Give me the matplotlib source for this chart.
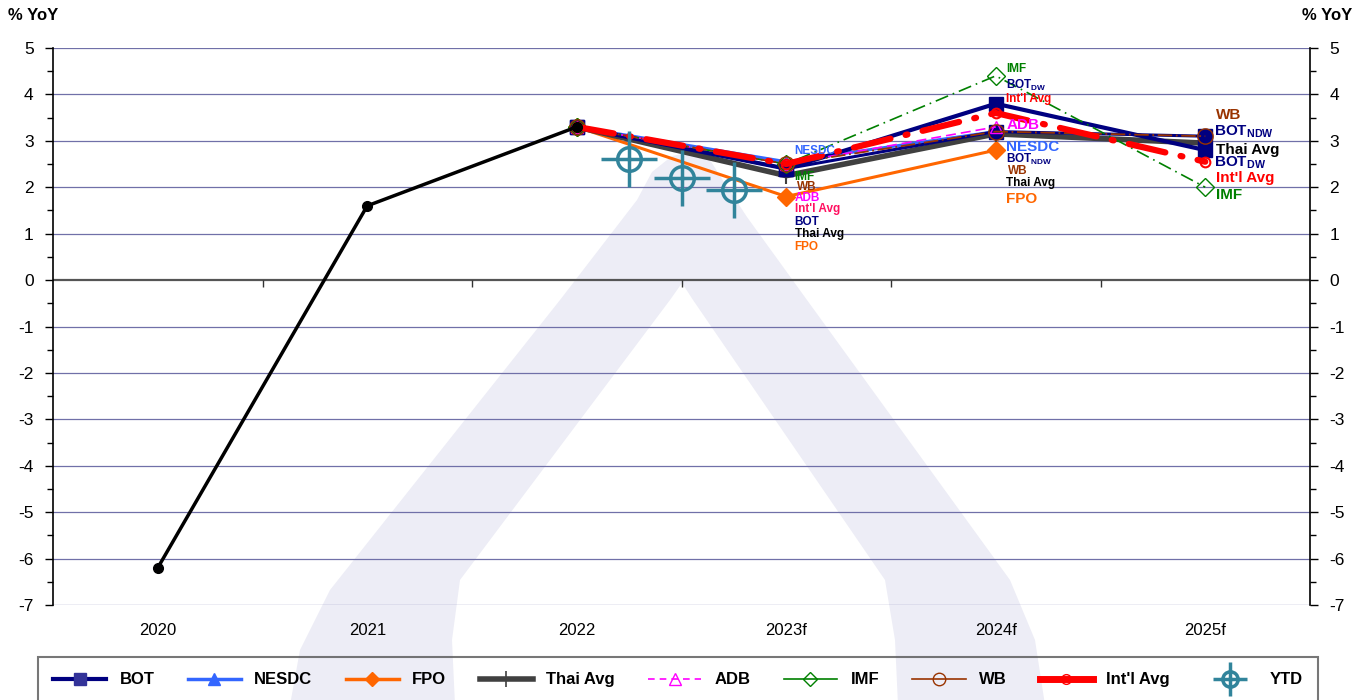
import numpy as np
import matplotlib
matplotlib.use('Agg')
import matplotlib.pyplot as plt
from matplotlib.lines import Line2D
from matplotlib.patches import Polygon
from matplotlib.legend_handler import HandlerTuple

plt.rcParams['font.family'] = ['Liberation Sans', 'DejaVu Sans']
plt.rcParams['mathtext.fontset'] = 'custom'
plt.rcParams['mathtext.rm'] = 'Liberation Sans'
plt.rcParams['mathtext.bf'] = 'Liberation Sans:bold'
plt.rcParams['axes.unicode_minus'] = False

nan = np.nan
years = ['2020', '2021', '2022', '2023f', '2024f', '2025f']

# actual growth (black line)
actual = [-6.2, 1.6, 3.3, nan, nan, nan]
# forecasts
bot_dw = [nan, nan, 3.3, 2.4, 3.8, 2.8]
bot_ndw = [nan, nan, 3.3, 2.4, 3.2, 3.1]
nesdc = [nan, nan, 3.3, 2.55, 3.2, nan]
fpo = [nan, nan, 3.3, 1.8, 2.8, nan]
thai_avg = [nan, nan, 3.3, 2.25, 3.15, 2.95]
adb = [nan, nan, 3.3, 2.5, 3.3, nan]
imf = [nan, nan, 3.3, 2.5, 4.4, 2.0]
wb = [nan, nan, 3.3, 2.5, 3.2, 3.1]
intl_avg = [nan, nan, 3.3, 2.5, 3.6, 2.55]
# YTD (quarterly, within 2023)
ytd_x = [2.25, 2.5, 2.75]
ytd = [2.6, 2.2, 1.95]

NAVY = '#000080'
BLUE = '#3366ff'
ORANGE = '#ff6600'
GRAY = '#404040'
MAGENTA = '#ff00ff'
GREEN = '#008000'
BROWN = '#993300'
RED = '#ff0000'
TEAL = '#31849b'

fig = plt.figure(figsize=(13.68, 7), dpi=100)

# background watermark (figure pixels)
def px(pts):
    return [(x / 1368, 1 - y / 700) for x, y in pts]

outer = [(290, 705), (300, 650), (330, 590), (560, 300), (637, 200), (652, 172),
         (672, 156), (692, 152), (710, 160), (724, 182), (747, 217), (807, 300),
         (1010, 580), (1035, 640), (1045, 705)]
inner = [(455, 705), (452, 640), (460, 580), (670, 300), (682, 283), (693, 300),
         (885, 580), (895, 640), (898, 705)]
fig.patches.append(Polygon(px(outer), closed=True, transform=fig.transFigure,
                           facecolor='#ededf6', edgecolor='none', zorder=-10))
fig.patches.append(Polygon(px(inner), closed=True, transform=fig.transFigure,
                           facecolor='white', edgecolor='none', zorder=-9))

ax = fig.add_axes([53 / 1368, 1 - 605 / 700, (1310 - 53) / 1368, (605 - 48) / 700])
ax.set_facecolor('none')
x = np.arange(len(years))

ax.plot(x, fpo, color=ORANGE, lw=2.2, marker='D', ms=9, zorder=3)
ax.plot(x, thai_avg, color=GRAY, lw=4, marker='+', ms=12, mew=1.5, zorder=3)
ax.plot(x, nesdc, color=BLUE, lw=2.2, marker='^', ms=8, zorder=4)
ax.plot(x, bot_ndw, color=NAVY, lw=2.2, marker='s', ms=10, zorder=4)
ax.plot(x, bot_dw, color=NAVY, lw=3, marker='s', ms=10, zorder=4)
ax.plot(x, adb, color=MAGENTA, lw=1.2, ls=(0, (6, 3)), marker='^', ms=9, mfc='none', zorder=5)
ax.plot(x, imf, color=GREEN, lw=1.2, ls=(0, (8, 3, 1, 3)), marker='D', ms=9, mfc='none', zorder=5)
ax.plot(x, wb, color=BROWN, lw=1.3, ls=(0, (8, 2, 1, 2)), marker='o', ms=11, mfc='none', zorder=5)
ax.plot(x, intl_avg, color=RED, lw=4.5, ls=(0, (6, 2.5, 0.3, 2.5)), dash_capstyle='round',
        marker='o', ms=7, mfc='none', mew=1.5, zorder=6)
ax.plot(x, actual, color='black', lw=2.5, marker='o', ms=7, zorder=7)
ax.plot(ytd_x, ytd, ls='none', marker='o', ms=17, mfc='none', mec=TEAL, mew=2.5, zorder=8)
ax.plot(ytd_x, ytd, ls='none', marker='+', ms=40, mec=TEAL, mew=2.5, zorder=8)

ax.set_xlim(-0.5, 5.5)
ax.set_ylim(-7, 5)
ax.set_xticks(x)
ax.set_xticklabels(years, fontsize=12)
ax.tick_params(axis='x', length=0, pad=13)
ax.set_yticks(range(-7, 6))
ax.set_yticks(np.arange(-6.5, 5, 1), minor=True)
ax.yaxis.set_ticks_position('both')
ax.tick_params(axis='y', which='major', direction='out', length=6, width=1,
               labelsize=12.5, labelright=True, pad=8)
ax.tick_params(axis='y', which='minor', direction='out', length=4, width=1)
for s in ['top', 'bottom']:
    ax.spines[s].set_visible(False)
ax.spines['left'].set_linewidth(1.2)
ax.spines['right'].set_linewidth(1.2)

for v in range(-7, 6):
    if v == 0:
        ax.axhline(0, color='#555555', lw=1.6, zorder=1)
    else:
        ax.axhline(v, color='#7070a8', lw=0.9, zorder=1)
ax.vlines(np.arange(0.5, 5.5, 1), -0.15, 0, color='#333333', lw=1, zorder=1)

# point labels: (text, color, x, y, size)
labels = [
    ('NESDC', BLUE, 3.04, 2.78, 8.5),
    ('IMF', GREEN, 3.04, 2.22, 8.5),
    ('WB', BROWN, 3.05, 2.0, 8.5),
    ('ADB', MAGENTA, 3.04, 1.77, 8.5),
    ("Int'l Avg", '#ff1060', 3.04, 1.53, 8.5),
    ('BOT', NAVY, 3.04, 1.25, 8.5),
    ('Thai Avg', 'black', 3.04, 0.99, 8.5),
    ('FPO', ORANGE, 3.04, 0.71, 8.5),
    ('IMF', GREEN, 4.05, 4.55, 8.5),
    (r'BOT$_\mathbf{DW}$', NAVY, 4.05, 4.2, 8.5),
    ("Int'l Avg", RED, 4.05, 3.9, 8.5),
    ('ADB', MAGENTA, 4.05, 3.34, 11),
    ('NESDC', BLUE, 4.05, 2.87, 11),
    (r'BOT$_\mathbf{NDW}$', NAVY, 4.05, 2.59, 8.5),
    ('WB', BROWN, 4.06, 2.35, 8.5),
    ('Thai Avg', 'black', 4.05, 2.09, 8.5),
    ('FPO', ORANGE, 4.05, 1.75, 11),
    ('WB', BROWN, 5.05, 3.56, 11),
    (r'BOT$_\mathbf{NDW}$', NAVY, 5.04, 3.19, 11),
    ('Thai Avg', 'black', 5.05, 2.8, 11),
    (r'BOT$_\mathbf{DW}$', NAVY, 5.04, 2.52, 11),
    ("Int'l Avg", RED, 5.05, 2.2, 11),
    ('IMF', GREEN, 5.05, 1.83, 11),
]
for t, c, lx, ly, fs in labels:
    ax.text(lx, ly, t, color=c, fontsize=fs, fontweight='bold', ha='left', va='center', zorder=9)

fig.text(8 / 1368, 1 - 15 / 700, '% YoY', fontsize=12, fontweight='bold', ha='left', va='center')
fig.text(1352 / 1368, 1 - 15 / 700, '% YoY', fontsize=12, fontweight='bold', ha='right', va='center')

# legend
handles = [
    Line2D([], [], color=NAVY, lw=3, marker='s', ms=9, mfc='#333399', mec='#333399'),
    Line2D([], [], color=BLUE, lw=2.5, marker='^', ms=8),
    Line2D([], [], color=ORANGE, lw=2.5, marker='D', ms=7),
    Line2D([], [], color=GRAY, lw=4, marker='+', ms=12, mew=1.2),
    Line2D([], [], color=MAGENTA, lw=1.2, ls=(0, (4, 3)), marker='^', ms=9, mfc='none'),
    Line2D([], [], color=GREEN, lw=1.2, marker='D', ms=7, mfc='none'),
    Line2D([], [], color=BROWN, lw=1.2, marker='o', ms=9, mfc='none'),
    Line2D([], [], color=RED, lw=5, marker='o', ms=7, mfc='none'),
    (Line2D([], [], ls='none', marker='o', ms=11, mfc='none', mec=TEAL, mew=2.5),
     Line2D([], [], ls='none', marker='+', ms=24, mec=TEAL, mew=2.5)),
]
names = ['BOT', 'NESDC', 'FPO', 'Thai Avg', 'ADB', 'IMF', 'WB', "Int'l Avg", 'YTD']
leg = fig.legend(handles, names, loc='lower left', ncol=9, mode='expand',
                 bbox_to_anchor=(38 / 1368, -0.0035, 1280 / 1368, 0.07),
                 borderaxespad=0,
                 frameon=True, fancybox=False, edgecolor='#555555', handlelength=3.2,
                 borderpad=0.9, prop={'weight': 'bold', 'size': 12},
                 handler_map={tuple: HandlerTuple(ndivide=1)})
leg.get_frame().set_linewidth(1.5)
leg.get_frame().set_facecolor('none')

fig.savefig('out.png', dpi=100)
